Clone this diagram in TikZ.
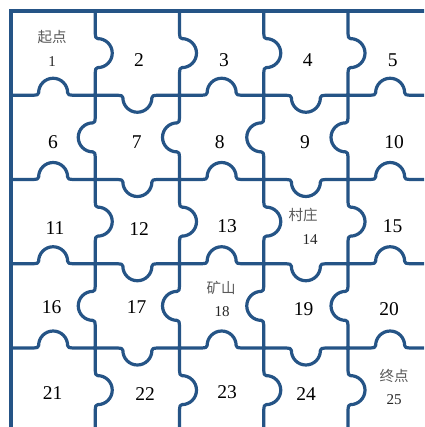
\documentclass[tikz,border=0pt]{standalone}
\usepackage{fontspec}
\setmainfont{Liberation Serif}
\newfontfamily\cjk{Noto Sans CJK SC}
\definecolor{edgeblue}{RGB}{37,84,134}
\tikzset{
  gridline/.style={draw=edgeblue, line width=3.2pt, line cap=rect, line join=round},
  big/.style={font=\fontsize{19.5}{20}\selectfont, text=black, inner sep=0pt},
  small/.style={font=\fontsize{15}{16}\selectfont, text=black!85, inner sep=0pt},
  cn/.style={font=\cjk\fontsize{14.5}{16}\selectfont, text=black!65, inner sep=0pt},
}
\newcommand\knobedge{(-42.125,0) -- (-19.5,0) .. controls (-16.5,0) and (-14.5,0.5) .. (-14.5,2.5) .. controls (-14.5,10.5) and (-8,17) .. (0,17) .. controls (8,17) and (14.5,10.5) .. (14.5,2.5) .. controls (14.5,0.5) and (16.5,0) .. (19.5,0) -- (42.125,0)}
\newcommand\hknob[3]{\draw[gridline, shift={(#1,#2)}, yscale=#3] \knobedge;}
\newcommand\vknob[3]{\draw[gridline, shift={(#1,#2)}, rotate=90, yscale=#3] \knobedge;}
\begin{document}
\begin{tikzpicture}[x=1pt, y=-1pt]
\useasboundingbox (0,0) rectangle (424,427);
\fill[white] (0,0) rectangle (424,427);
\clip (0,0) rectangle (424,427);
% outer edges
\draw[gridline] (11,11) -- (440,11);
\draw[gridline] (11,11) -- (11,440);
% horizontal puzzle edges
\foreach \y in {95.25,179.5,263.75,348} {
  \foreach \x/\s in {53.125/-1,137.375/1,221.625/-1,305.875/1,390.125/-1} {
    \hknob{\x}{\y}{\s}
  }
}
% vertical puzzle edges
\foreach \x in {95.25,179.5,263.75,348} {
  \foreach \y/\s in {53.125/1,137.375/-1,221.625/1,305.875/-1,390.125/1} {
    \vknob{\x}{\y}{\s}
  }
}
% labels
\node[cn] (c1) at (52,37) {起点};
\node[small] (n1) at (52,62) {1};
\node[big] (n2) at (139,60) {2};
\node[big] (n3) at (224,60) {3};
\node[big] (n4) at (307.7,60) {4};
\node[big] (n5) at (392.7,60) {5};
\node[big] (n6) at (53,141.7) {6};
\node[big] (n7) at (136.7,141.7) {7};
\node[big] (n8) at (219.7,141.7) {8};
\node[big] (n9) at (305,141.7) {9};
\node[big] (n10) at (394,141.7) {10};
\node[big] (n11) at (55,228) {11};
\node[big] (n12) at (139,229) {12};
\node[big] (n13) at (227,226) {13};
\node[cn] (c14) at (303,215) {村庄};
\node[small] (n14) at (310,240) {14};
\node[big] (n15) at (392.7,225.7) {15};
\node[big] (n16) at (51.7,307) {16};
\node[big] (n17) at (136.7,307) {17};
\node[cn] (c18) at (221,288) {矿山};
\node[small] (n18) at (222,311.5) {18};
\node[big] (n19) at (303.7,309) {19};
\node[big] (n20) at (389,309) {20};
\node[big] (n21) at (52.7,393.5) {21};
\node[big] (n22) at (145,394.5) {22};
\node[big] (n23) at (227,392) {23};
\node[big] (n24) at (306,394) {24};
\node[cn] (c25) at (394,376) {终点};
\node[small] (n25) at (394,400) {25};
\end{tikzpicture}
\end{document}
